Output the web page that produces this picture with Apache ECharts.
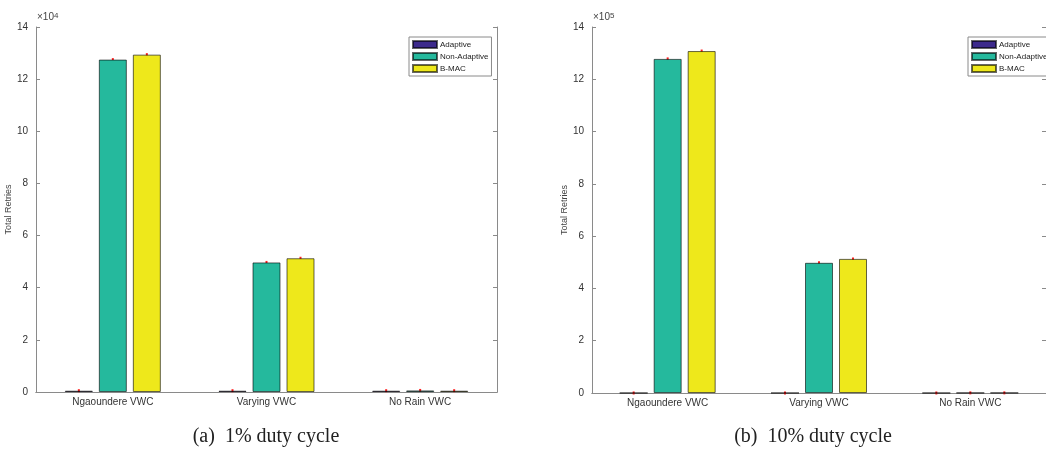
<!DOCTYPE html>
<html>
<head>
<meta charset="utf-8">
<script src="https://cdn.jsdelivr.net/npm/echarts@6/dist/echarts.min.js"></script>
<style>
  html, body { margin: 0; padding: 0; background: #fff; }
  #main { width: 1046px; height: 450px; }
</style>
</head>
<body>
<div id="main"></div>
<script>
// categories and values (left: x10^4, right: x10^5)
var categories = ['Ngaoundere VWC', 'Varying VWC', 'No Rain VWC'];
var seriesNames = ['Adaptive', 'Non-Adaptive', 'B-MAC'];
var adaptive1 = [0.05, 0.05, 0.05];
var nonAdaptive1 = [12.75, 4.97, 0.06];
var bmac1 = [12.94, 5.13, 0.05];
var adaptive10 = [0.001, 0.001, 0.001];
var nonAdaptive10 = [12.78, 4.98, 0.005];
var bmac10 = [13.08, 5.13, 0.005];
var yTicks = [0, 2, 4, 6, 8, 10, 12, 14];

var colors = ['#3d2a8c', '#25b99d', '#eee81b'];
var barW = 28, barGap = 6;

var myChart = echarts.init(document.getElementById('main'));

function grid(i) {
  return i === 0 ? { left: 36, top: 27, width: 461, height: 365 }
                 : { left: 592, top: 27, width: 462, height: 366 };
}

var axisCol = '#8a8a8a';
var grids = [grid(0), grid(1)];
var xAxes = [], yAxes = [], series = [];

[0, 1].forEach(function (g) {
  xAxes.push({
    type: 'category', gridIndex: g, data: categories, position: 'bottom',
    axisLine: { lineStyle: { color: axisCol } },
    axisTick: { inside: true, alignWithLabel: true, length: 5, lineStyle: { color: axisCol } },
    axisLabel: { color: '#333', fontSize: 10, fontFamily: 'Liberation Sans', margin: 5 }
  });
  xAxes.push({
    type: 'category', gridIndex: g, data: categories, position: 'top',
    axisLine: { lineStyle: { color: axisCol } },
    axisTick: { inside: true, alignWithLabel: true, length: 5, lineStyle: { color: axisCol } },
    axisLabel: { show: false }
  });
  yAxes.push({
    type: 'value', gridIndex: g, min: yTicks[0], max: yTicks[yTicks.length - 1], interval: 2, position: 'left',
    name: 'Total Retries', nameLocation: 'middle', nameGap: 18,
    nameTextStyle: { fontSize: 9, color: '#444', fontFamily: 'Liberation Sans' },
    axisLine: { show: true, lineStyle: { color: axisCol } },
    axisTick: { show: true, inside: true, length: 4, lineStyle: { color: axisCol } },
    axisLabel: { color: '#333', fontSize: 10, fontFamily: 'Liberation Sans', margin: 8 },
    splitLine: { show: false }
  });
  yAxes.push({
    type: 'value', gridIndex: g, min: yTicks[0], max: yTicks[yTicks.length - 1], interval: 2, position: 'right',
    axisLine: { show: true, lineStyle: { color: axisCol } },
    axisTick: { show: true, inside: true, length: 4, lineStyle: { color: axisCol } },
    axisLabel: { show: false },
    splitLine: { show: false }
  });
});

var dataSets = [[adaptive1, nonAdaptive1, bmac1], [adaptive10, nonAdaptive10, bmac10]];

dataSets.forEach(function (set, g) {
  set.forEach(function (vals, s) {
    series.push({
      name: seriesNames[s], type: 'bar', xAxisIndex: g * 2, yAxisIndex: g * 2,
      data: vals, barWidth: barW, barGap: (barGap / barW * 100) + '%',
      itemStyle: { color: colors[s], borderColor: 'rgba(0,0,0,0.6)', borderWidth: 1 },
      emphasis: { disabled: true }, animation: false
    });
  });
  // error bar markers (tiny red)
  set.forEach(function (vals, s) {
    series.push({
      type: 'custom', xAxisIndex: g * 2, yAxisIndex: g * 2, animation: false, silent: true,
      data: vals.map(function (v, i) { return [i, v]; }),
      renderItem: function (params, api) {
        var p = api.coord([api.value(0), api.value(1)]);
        var x = p[0] + (s - 1) * (barW + barGap);
        return { type: 'line', shape: { x1: x, y1: p[1] - 1.5, x2: x, y2: p[1] + 1.5 },
                 style: { stroke: '#ff2020', lineWidth: 2 } };
      }
    });
  });
});

function legend(g) {
  return {
    data: seriesNames.map(function (n) { return { name: n, icon: 'rect' }; }),
    orient: 'vertical',
    left: g === 0 ? 409 : 968, top: 37,
    itemWidth: 24, itemHeight: 7, itemGap: 3,
    borderColor: '#8a8a8a', borderWidth: 1, borderRadius: 0,
    padding: [3, 3, 3, 3],
    textStyle: { fontSize: 8, color: '#222', fontFamily: 'Liberation Sans', padding: [0, 0, 0, -2] },
    selectedMode: false
  };
}

function expLabel(x, e) {
  return {
    type: 'text', left: x, top: 12,
    style: {
      text: '{a|×10}{b|' + e + '}',
      rich: {
        a: { fontSize: 10, fill: '#444', fontFamily: 'Liberation Sans', verticalAlign: 'bottom' },
        b: { fontSize: 8, fill: '#444', fontFamily: 'Liberation Sans', verticalAlign: 'top' }
      }
    }
  };
}

function caption(cx, txt) {
  return {
    type: 'text', x: cx, y: 437,
    style: { text: txt, fontSize: 20, fill: '#222', fontFamily: 'Liberation Serif',
             textAlign: 'center', textVerticalAlign: 'middle' }
  };
}

option = {
  backgroundColor: '#fff',
  animation: false,
  grid: grids,
  xAxis: xAxes,
  yAxis: yAxes,
  legend: [legend(0), legend(1)],
  series: series,
  graphic: [
    expLabel(37, '4'), expLabel(593, '5'),
    caption(266, '(a)  1% duty cycle'), caption(813, '(b)  10% duty cycle')
  ]
};

myChart.setOption(option);
</script>
</body>
</html>
